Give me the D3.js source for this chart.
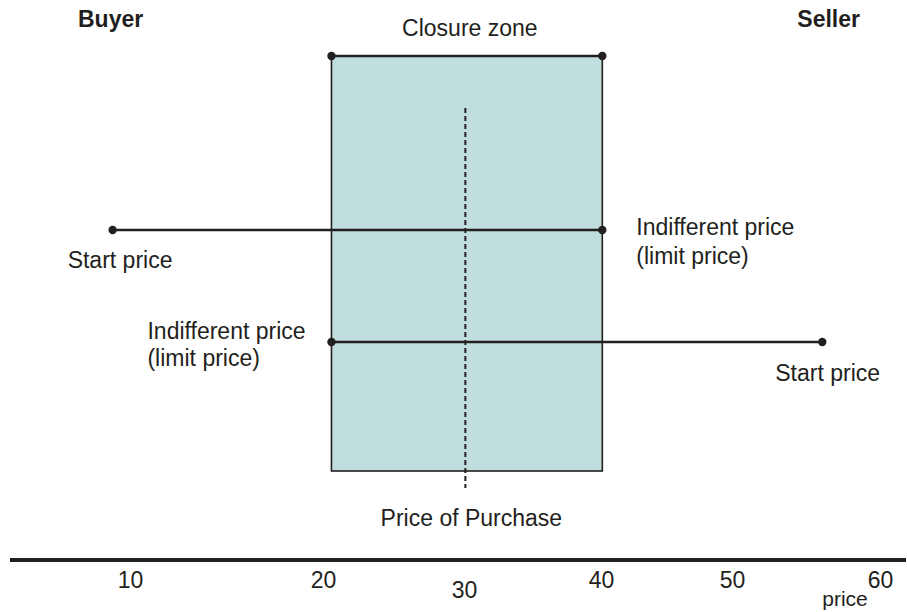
<!DOCTYPE html>
<html>
<head>
<meta charset="utf-8">
<script src="https://cdn.jsdelivr.net/npm/d3@7"></script>
<style>
  body { margin: 0; background: #fff; }
  svg { display: block; font-family: "Liberation Sans", Arial, sans-serif; }
</style>
</head>
<body>
<svg width="907" height="612"></svg>
<script>
// price values
const tickValues = [10, 20, 30, 40, 50, 60];
const closureZone = [20.6, 40.1];
const purchasePrice = 30.1;
const buyerPrices = [9.1, 40.1]; // start, indifferent
const sellerPrices = [20.6, 56.1]; // indifferent, start

const svg = d3.select("svg");
const width = +svg.attr("width");
const ink = "#231f20";
const fontSize = 23;

// the drawing is schematic, tick labels are not evenly spaced
const x = d3
  .scaleLinear()
  .domain(tickValues)
  .range([130, 323, 464, 601, 732, 880]);

const row = { zoneTop: 56, buyer: 230, seller: 342, zoneBottom: 471, axis: 560 };

// closure zone box
svg
  .append("rect")
  .attr("x", x(closureZone[0]))
  .attr("y", row.zoneTop)
  .attr("width", x(closureZone[1]) - x(closureZone[0]))
  .attr("height", row.zoneBottom - row.zoneTop)
  .attr("fill", "#bfdedd")
  .attr("stroke", ink)
  .attr("stroke-width", 1.6);

// purchase price dashed line
svg
  .append("line")
  .attr("x1", x(purchasePrice))
  .attr("x2", x(purchasePrice))
  .attr("y1", 108)
  .attr("y2", 488)
  .attr("stroke", ink)
  .attr("stroke-width", 2)
  .attr("stroke-dasharray", "5,3");

const segments = [
  { y: row.zoneTop, v: closureZone },
  { y: row.buyer, v: buyerPrices },
  { y: row.seller, v: sellerPrices },
];

svg
  .selectAll("line.seg")
  .data(segments)
  .enter()
  .append("line")
  .attr("class", "seg")
  .attr("x1", (d) => x(d.v[0]))
  .attr("x2", (d) => x(d.v[1]))
  .attr("y1", (d) => d.y)
  .attr("y2", (d) => d.y)
  .attr("stroke", ink)
  .attr("stroke-width", 2.5);

svg
  .selectAll("circle")
  .data(segments.flatMap((d) => d.v.map((v) => ({ v: v, y: d.y }))))
  .enter()
  .append("circle")
  .attr("cx", (d) => x(d.v))
  .attr("cy", (d) => d.y)
  .attr("r", 4.2)
  .attr("fill", ink);

// axis line
svg
  .append("line")
  .attr("x1", 10)
  .attr("x2", width - 1)
  .attr("y1", row.axis)
  .attr("y2", row.axis)
  .attr("stroke", ink)
  .attr("stroke-width", 4);

const xAxisG = svg
  .append("g")
  .attr("transform", `translate(0, ${row.axis})`)
  .call(d3.axisBottom(x).tickValues(tickValues).tickSize(0));

xAxisG.select(".domain").remove();
xAxisG
  .selectAll("text")
  .attr("font-family", "Liberation Sans, Arial, sans-serif")
  .attr("font-size", fontSize)
  .attr("fill", ink)
  .attr("dy", 0)
  .attr("y", (d) => (d === 30 ? 38 : 28));

// texts
const label = (txt, tx, ty, opts = {}) =>
  svg
    .append("text")
    .attr("x", tx)
    .attr("y", ty)
    .attr("font-size", opts.size || fontSize)
    .attr("font-weight", opts.bold ? "bold" : "normal")
    .attr("text-anchor", opts.anchor || "start")
    .attr("fill", ink)
    .text(txt);

label("Buyer", 78, 27, { bold: true });
label("Seller", 860, 27, { bold: true, anchor: "end" });
label("Closure zone", (x(closureZone[0]) + x(closureZone[1])) / 2 + 3, 36, { anchor: "middle" });
label("Start price", x(buyerPrices[0]) - 45, 268);
label("Indifferent price", x(buyerPrices[1]) + 34, 235);
label("(limit price)", x(buyerPrices[1]) + 34, 264);
label("Indifferent price", x(sellerPrices[0]) - 184, 339);
label("(limit price)", x(sellerPrices[0]) - 184, 366);
label("Start price", x(sellerPrices[1]) - 47, 381);
label("Price of Purchase", x(purchasePrice) + 6, 526, { anchor: "middle" });
label("price", 845, 606, { anchor: "middle", size: 21 });
</script>
</body>
</html>
